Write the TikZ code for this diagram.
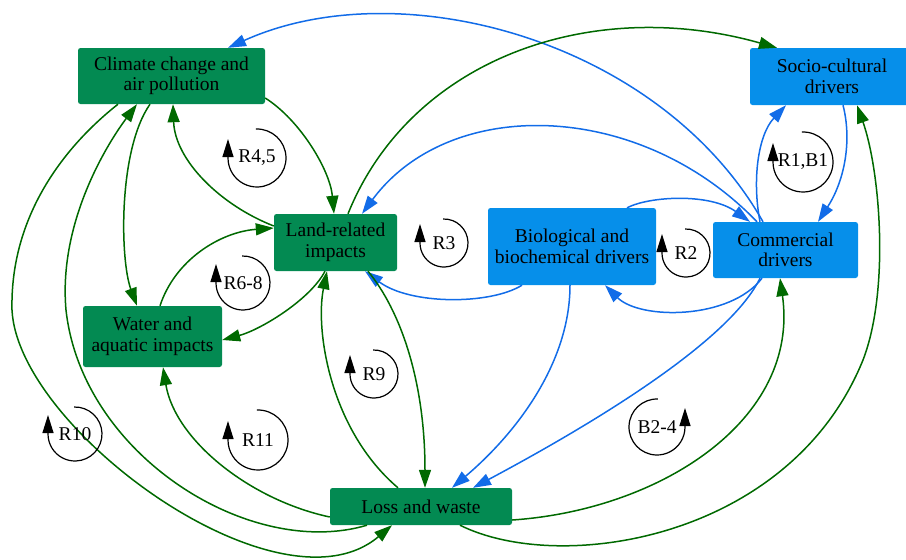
\documentclass[tikz,border=0pt]{standalone}
\usepackage{fontspec}
\setmainfont{Liberation Serif}
\usetikzlibrary{arrows.meta}
\definecolor{boxgreen}{RGB}{3,138,82}
\definecolor{boxblue}{RGB}{6,143,234}
\definecolor{edgegreen}{RGB}{0,105,0}
\definecolor{edgeblue}{RGB}{18,108,232}

\begin{document}
\begin{tikzpicture}[x=1pt,y=-1pt,
  every node/.style={font=\fontsize{19.5}{20.5}\selectfont},
  box/.style={rectangle, rounded corners=2.5pt, align=center, inner sep=0pt},
  impact/.style={box, fill=boxgreen},
  driver/.style={box, fill=boxblue},
  gflow/.style={edgegreen, line width=1.5pt, -{Triangle[length=18pt,width=12pt]}},
  bflow/.style={edgeblue, line width=1.5pt, -{Triangle[length=18pt,width=12pt]}},
  loopmark/.style={black, line width=1.2pt, -{Triangle[length=18pt,width=11pt]}},
  looptext/.style={inner sep=0pt}
]
\useasboundingbox (0,0) rectangle (906,560);

% factor boxes
\node[impact, minimum width=187pt, minimum height=56pt] (Clim) at (171.5,76) {Climate change and\\air pollution};
\node[driver, minimum width=164pt, minimum height=57pt] (Soc) at (832,76.5) {Socio-cultural\\drivers};
\node[impact, minimum width=123pt, minimum height=57pt] (Land) at (335.5,242.5) {Land-related\\impacts};
\node[driver, minimum width=168pt, minimum height=77pt] (Bio) at (572,246.5) {Biological and\\biochemical drivers};
\node[driver, minimum width=145pt, minimum height=56pt] (Comm) at (785.5,250) {Commercial\\drivers};
\node[impact, minimum width=139pt, minimum height=61pt] (Water) at (152.5,336.5) {Water and\\aquatic impacts};
\node[impact, minimum width=182pt, minimum height=37pt] (Loss) at (421,506.5) {Loss and waste};

% driver links
\draw[bflow] (Comm.north -| 763,0) .. controls (660,40) and (400,-30) .. (Clim.north -| 228,0);
\draw[bflow] (Comm.north -| 757,0) .. controls (640,100) and (450,95) .. (Land.north -| 362,0);
\draw[bflow] (Comm.north -| 760,0) .. controls (752,180) and (758,135) .. (Soc.south -| 786,0);
\draw[bflow] (Soc.south -| 843,0) .. controls (852,140) and (845,180) .. (Comm.north -| 818,0);
\draw[bflow] (Bio.north -| 627,0) .. controls (650,196) and (710,193) .. (Comm.north -| 750,0);
\draw[bflow] (Comm.south -| 762,0) .. controls (730,320) and (640,320) .. (Bio.south -| 605,0);
\draw[bflow] (Bio.south -| 522,0) .. controls (490,305) and (410,305) .. (Land.south -| 365,0);
\draw[bflow] (Bio.south -| 570,0) .. controls (570,360) and (520,430) .. (Loss.north -| 452,0);
\draw[bflow] (Comm.south -| 760,0) .. controls (730,340) and (600,420) .. (Loss.north -| 473,0);

% impact links
\draw[gflow] (Land.north -| 348,0) .. controls (410,60) and (590,-5) .. (Soc.north -| 777,0);
\draw[gflow] (Clim.east |- 0,98) .. controls (300,120) and (330,170) .. (Land.north -| 334,0);
\draw[gflow] (Land.west |- 0,226) .. controls (220,205) and (175,160) .. (Clim.south -| 173,0);
\draw[gflow] (Clim.south -| 150,0) .. controls (118,150) and (120,260) .. (Water.north -| 137,0);
\draw[gflow] (Water.north -| 160,0) .. controls (175,260) and (220,232) .. (Land.west |- 0,228);
\draw[gflow] (Land.south -| 325,0) .. controls (310,300) and (260,330) .. (Water.east |- 0,340);
\draw[gflow] (Loss.north -| 398,0) .. controls (330,430) and (315,330) .. (Land.south -| 327,0);
\draw[gflow] (Land.south -| 368,0) .. controls (400,310) and (425,380) .. (Loss.north -| 425,0);
\draw[gflow] (Loss.west |- 0,517) .. controls (250,500) and (175,440) .. (Water.south -| 163,0);
\draw[gflow] (Loss.south -| 367,0) .. controls (250,560) and (82,455) .. (66,310)
  .. controls (58,220) and (110,140) .. (Clim.south -| 137,0);
\draw[gflow] (Clim.south -| 118,0) .. controls (60,150) and (10,220) .. (12,310)
  .. controls (18,430) and (280,620) .. (Loss.south -| 392,0);
\draw[gflow] (Loss.east |- 0,520) .. controls (660,510) and (800,420) .. (Comm.south -| 780,0);
\draw[gflow] (Loss.south -| 460,0) .. controls (560,575) and (790,540) .. (863,360)
  .. controls (890,290) and (880,170) .. (Soc.south -| 857,0);

% feedback loop markers
\node[looptext] (lR1) at (803,162) {R1,B1};
\node[looptext] (lR2) at (686,253) {R2};
\node[looptext] (lR3) at (444,243) {R3};
\node[looptext] (lR45) at (257,158) {R4,5};
\node[looptext] (lR68) at (243,283) {R6-8};
\node[looptext] (lR9) at (374,374) {R9};
\node[looptext] (lR10) at (75,434) {R10};
\node[looptext] (lR11) at (258,440) {R11};
\node[looptext] (lB24) at (657,427) {B2-4};

\draw[loopmark] (lR1.center) ++(-92:30) arc[start angle=-92, end angle=180, radius=30] -- ++(0,-19);
\draw[loopmark] (lR2.center) ++(-92:24) arc[start angle=-92, end angle=180, radius=24] -- ++(0,-19);
\draw[loopmark] (lR3.center) ++(-92:24) arc[start angle=-92, end angle=180, radius=24] -- ++(0,-19);
\draw[loopmark] (lR45.center) ++(-92:29) arc[start angle=-92, end angle=180, radius=29] -- ++(0,-19);
\draw[loopmark] (lR68.center) ++(-92:27) arc[start angle=-92, end angle=180, radius=27] -- ++(0,-19);
\draw[loopmark] (lR9.center) ++(-92:24) arc[start angle=-92, end angle=180, radius=24] -- ++(0,-19);
\draw[loopmark] (lR10.center) ++(-92:27) arc[start angle=-92, end angle=180, radius=27] -- ++(0,-19);
\draw[loopmark] (lR11.center) ++(-92:30) arc[start angle=-92, end angle=180, radius=30] -- ++(0,-19);
\draw[loopmark] (lB24.center) ++(-88:28) arc[start angle=-88, end angle=-360, radius=28] -- ++(0,-19);
\end{tikzpicture}
\end{document}
